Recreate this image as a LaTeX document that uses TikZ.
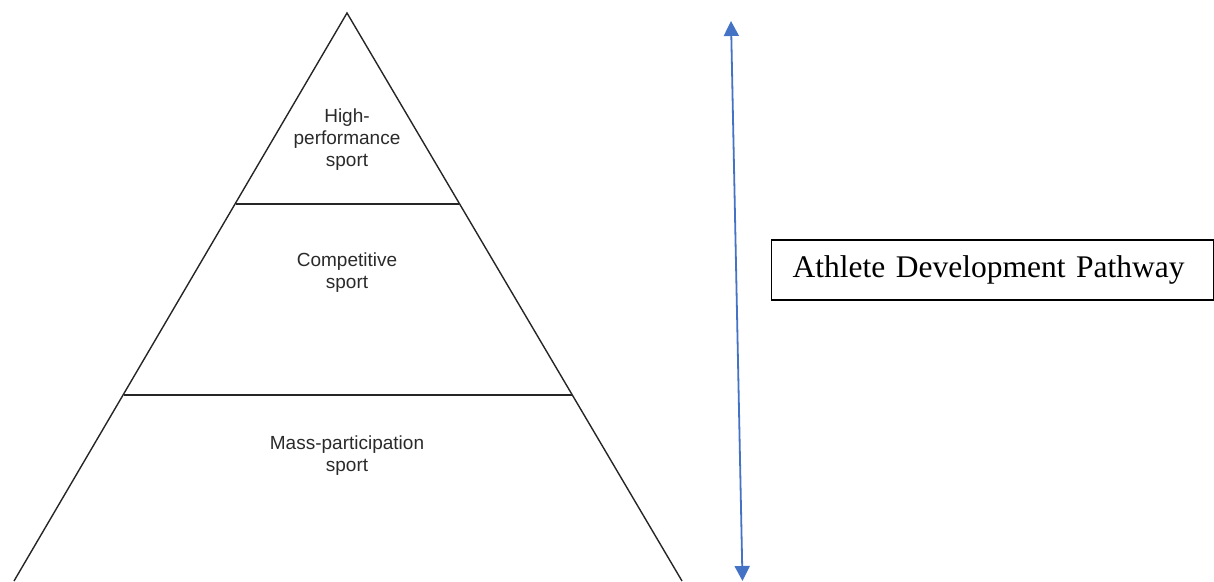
\documentclass[tikz,border=0pt]{standalone}
\usepackage{fontspec}
\setmainfont{Liberation Serif}
\newfontfamily\tierfont{Liberation Sans}
\usetikzlibrary{arrows.meta}
\definecolor{pathblue}{HTML}{4472C4}
\definecolor{tiertext}{HTML}{2A2A2A}
\tikzset{
  tierline/.style={draw=black!85, line width=1.4pt},
  tierlabel/.style={font=\tierfont\fontsize{19}{22}\selectfont, text=tiertext, align=center, inner sep=0pt},
  pathway/.style={draw=pathblue, line width=1.8pt, {Triangle[length=15pt,width=15pt]}-{Triangle[length=15pt,width=15pt]}},
  titlebox/.style={draw=black, line width=1.4pt, fill=white, font=\fontsize{31.5}{36}\selectfont,
    text width=400pt, inner xsep=21pt, minimum height=60pt, align=left}
}
\begin{document}
\begin{tikzpicture}[x=1pt,y=-1pt]
  \useasboundingbox (0,0) rectangle (1214,581);
  % pyramid outline
  \coordinate (apex) at (347,13);
  \coordinate (baseL) at (14,581);
  \coordinate (baseR) at (682,581);
  \coordinate (t1L) at (236,204);
  \coordinate (t1R) at (459,204);
  \coordinate (t2L) at (124,395);
  \coordinate (t2R) at (572,395);
  \draw[tierline] (baseL) -- (apex) -- (baseR);
  \draw[tierline] (t1L) -- (t1R);
  \draw[tierline] (t2L) -- (t2R);
  % tier labels
  \node[tierlabel] (top) at (347,140) {High-\\performance\\sport};
  \node[tierlabel] (mid) at (347,273) {Competitive\\sport};
  \node[tierlabel] (low) at (347,456) {Mass-participation\\sport};
  % pathway arrow
  \coordinate (arrTop) at (731,21);
  \coordinate (arrBot) at (742.5,581);
  \draw[pathway] (arrTop) -- (arrBot);
  % label box
  \node[titlebox, anchor=west] (title) at (771,270) {\raisebox{-2pt}{Athlete Development Pathway}};
\end{tikzpicture}
\end{document}
